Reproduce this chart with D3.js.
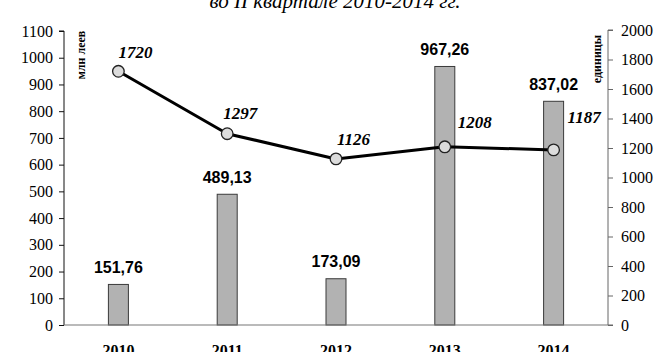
<!DOCTYPE html>
<html>
<head>
<meta charset="utf-8">
<script src="https://cdn.jsdelivr.net/npm/d3@7"></script>
<style>
  html, body { margin: 0; padding: 0; background: #fff; }
  svg { display: block; }
</style>
</head>
<body>
<svg id="chart" width="660" height="352"></svg>
<script>
// Years on the category axis
const years = ["2010", "2011", "2012", "2013", "2014"];
// Bars: amount, million lei (left axis)
const amounts = [151.76, 489.13, 173.09, 967.26, 837.02];
// Line: number of units (right axis)
const units = [1720, 1297, 1126, 1208, 1187];
// Tick labels of both value axes
const leftTicks = [0, 100, 200, 300, 400, 500, 600, 700, 800, 900, 1000, 1100];
const rightTicks = [0, 200, 400, 600, 800, 1000, 1200, 1400, 1600, 1800, 2000];
const titleText = "во II квартале 2010-2014 гг.";
const leftAxisTitle = "млн леев";
const rightAxisTitle = "единицы";

// Label placement next to each line point (dx to text start, dy to baseline)
const unitLabelShift = [[0, -13], [-4, -15], [1, -14], [13, -19], [14, -27]];

const SERIF = "Liberation Serif";
const SANS = "Liberation Sans";

const svg = d3.select("#chart");
const plot = { left: 64, right: 608, top: 31, bottom: 325 };

const x = d3.scaleBand().domain(years).range([plot.left, plot.right]);
const yLeft = d3.scaleLinear().domain([0, 1100]).range([plot.bottom, plot.top]);
const yRight = d3.scaleLinear().domain([0, 2000]).range([plot.bottom, 30]);
const cx = d => x(d) + x.bandwidth() / 2;

const ruFormat = d3.formatLocale({ decimal: ",", thousands: " ", grouping: [3], currency: ["", ""] }).format(".2f");

// Title line
svg.append("text")
  .attr("x", 335).attr("y", 8)
  .attr("text-anchor", "middle")
  .attr("font-family", SERIF)
  .attr("font-style", "italic").attr("font-size", 21)
  .text(titleText);

// Bars
const barW = 20;
svg.append("g").selectAll("rect").data(amounts).join("rect")
  .attr("x", (d, i) => cx(years[i]) - barW / 2)
  .attr("y", d => yLeft(d))
  .attr("width", barW)
  .attr("height", d => yLeft(0) - yLeft(d))
  .attr("fill", "#b2b2b2")
  .attr("stroke", "#3a3a3a")
  .attr("stroke-width", 1);

// Bar value labels
svg.append("g").selectAll("text").data(amounts).join("text")
  .attr("x", (d, i) => cx(years[i]))
  .attr("y", d => yLeft(d) - 11.5)
  .attr("text-anchor", "middle")
  .attr("font-family", SANS)
  .attr("font-weight", "bold").attr("font-size", 16)
  .text(d => ruFormat(d));

// Left axis
const gL = svg.append("g").attr("transform", `translate(${plot.left},0)`)
  .call(d3.axisLeft(yLeft).tickValues(leftTicks).tickSize(5).tickPadding(6).tickFormat(d3.format("d")));
gL.attr("font-family", SERIF).attr("font-size", 16);
gL.select(".domain").attr("stroke", "#111").attr("d", `M-5,${yLeft(1100)}H0V${yLeft(0)}`);
gL.selectAll(".tick line").attr("stroke", "#111");
gL.selectAll(".tick text").attr("fill", "#000");

// Right axis
const gR = svg.append("g").attr("transform", `translate(${plot.right},0)`)
  .call(d3.axisRight(yRight).tickValues(rightTicks).tickSize(5).tickPadding(8).tickFormat(d3.format("d")));
gR.attr("font-family", SERIF).attr("font-size", 16);
gR.select(".domain").attr("stroke", "#666").attr("d", `M5,${yRight(2000)}H0V${yRight(0)}H5`);
gR.selectAll(".tick line").attr("stroke", "#666");
gR.selectAll(".tick text").attr("fill", "#000");

// Category axis line
svg.append("line")
  .attr("x1", plot.left).attr("x2", plot.right)
  .attr("y1", plot.bottom).attr("y2", plot.bottom)
  .attr("stroke", "#777").attr("stroke-width", 1.2);

// Year labels
svg.append("g").selectAll("text").data(years).join("text")
  .attr("x", d => cx(d)).attr("y", 356)
  .attr("text-anchor", "middle")
  .attr("font-family", SERIF)
  .attr("font-weight", "bold").attr("font-size", 16)
  .text(d => d);

// Axis titles, rotated
svg.append("text")
  .attr("transform", `translate(85,55) rotate(-90)`)
  .attr("text-anchor", "middle")
  .attr("font-family", SERIF)
  .attr("font-weight", "bold").attr("font-size", 12)
  .text(leftAxisTitle);
svg.append("text")
  .attr("transform", `translate(601,59) rotate(-90)`)
  .attr("text-anchor", "middle")
  .attr("font-family", SERIF)
  .attr("font-weight", "bold").attr("font-size", 12)
  .text(rightAxisTitle);

// Units line with markers
const line = d3.line().x((d, i) => cx(years[i])).y(d => yRight(d));
svg.append("path").datum(units)
  .attr("d", line)
  .attr("fill", "none").attr("stroke", "#000").attr("stroke-width", 3)
  .attr("stroke-linejoin", "round");
svg.append("g").selectAll("circle").data(units).join("circle")
  .attr("cx", (d, i) => cx(years[i]))
  .attr("cy", d => yRight(d))
  .attr("r", 5.8)
  .attr("fill", "#dcdcdc").attr("stroke", "#222").attr("stroke-width", 1.3);

// Unit value labels
svg.append("g").selectAll("text").data(units).join("text")
  .attr("x", (d, i) => cx(years[i]) + unitLabelShift[i][0])
  .attr("y", (d, i) => yRight(d) + unitLabelShift[i][1])
  .attr("font-family", SERIF)
  .attr("font-weight", "bold").attr("font-style", "italic").attr("font-size", 17)
  .text(d => d);
</script>
</body>
</html>
